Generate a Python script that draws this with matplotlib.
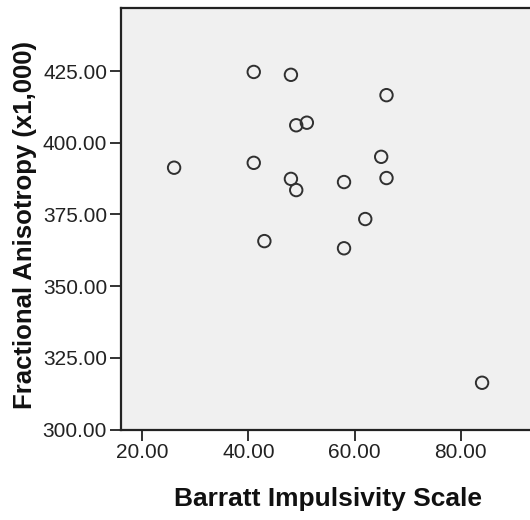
"""Scatter of fractional anisotropy against Barratt impulsivity score."""

import matplotlib
matplotlib.use("Agg")
import matplotlib.pyplot as plt

# data
bis_score = [41, 48, 49, 51, 26, 41, 48, 49, 58, 43, 58, 66, 65, 66, 62, 84]
fa_x1000 = [424.7, 423.7, 406.1, 407.0, 391.3, 393.0, 387.4, 383.5,
            386.3, 365.7, 363.2, 416.6, 395.1, 387.7, 373.4, 316.3]

x_ticks = [20, 40, 60, 80]
y_ticks = [300, 325, 350, 375, 400, 425]

plt.rcParams["font.family"] = ["Liberation Sans", "DejaVu Sans"]

W, H = 530, 520
fig = plt.figure(figsize=(W / 100, H / 100), dpi=100, facecolor="white")
# axes box in pixels: left 121, bottom 429.5, top 8; right runs past the edge
left, top, bottom = 121, 8, 429.5
x_lo, x_hi = 16.0, 96.0
px_per_x = 5.31
right = left + (x_hi - x_lo) * px_per_x
ax = fig.add_axes([left / W, (H - bottom) / H, (right - left) / W, (bottom - top) / H])
ax.set_facecolor("#f0f0f0")

ax.scatter(bis_score, fa_x1000, s=80, facecolors="none", edgecolors="#303030",
           linewidths=1.4, zorder=3)

ax.set_xlim(x_lo, x_hi)
ax.set_ylim(300, 447)
ax.set_xticks(x_ticks)
ax.set_yticks(y_ticks)
ax.set_xticklabels([f"{v:.2f}" for v in x_ticks])
ax.set_yticklabels([f"{v:.2f}" for v in y_ticks])
ax.tick_params(length=8, width=1.3, color="#222222", labelsize=15,
               labelcolor="#222222", pad=2)

for side in ("left", "bottom", "top"):
    ax.spines[side].set_linewidth(1.6)
    ax.spines[side].set_color("#222222")
ax.spines["right"].set_visible(False)

fig.text(328 / W, 1 - 499 / H, "Barratt Impulsivity Scale", ha="center", va="center",
         fontsize=19, fontweight="bold", color="#111111")
fig.text(25 / W, 1 - 225 / H, "Fractional Anisotropy (x1,000)", ha="center",
         va="center", rotation=90, fontsize=18.5, fontweight="bold", color="#111111")

fig.savefig("out.png", dpi=100, facecolor="white")
